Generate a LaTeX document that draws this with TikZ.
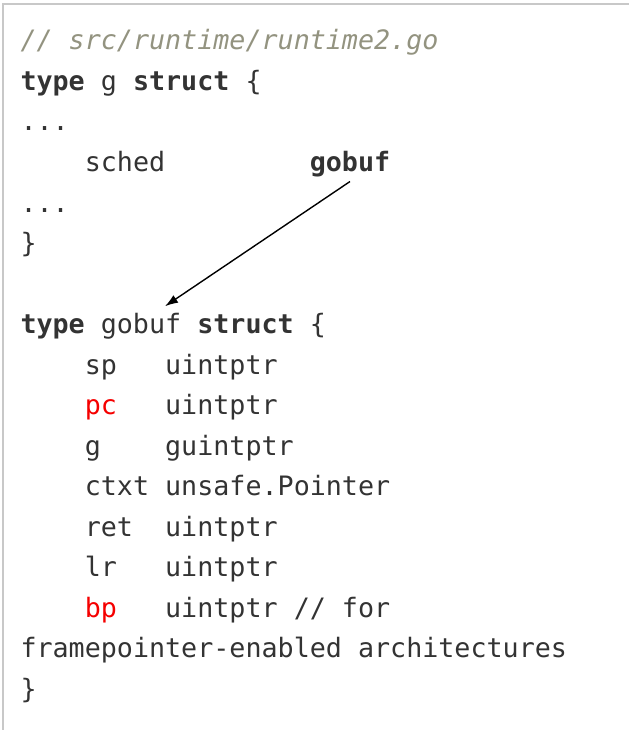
\documentclass[tikz,border=0pt]{standalone}
\usepackage{fontspec}
\usetikzlibrary{arrows.meta}
\newfontfamily\codefont{DejaVu Sans Mono}
\definecolor{codetext}{RGB}{51,51,51}
\definecolor{codecomment}{RGB}{147,147,128}
\definecolor{codered}{RGB}{245,0,0}
\definecolor{frameline}{RGB}{200,200,200}
\tikzset{
  codeline/.style={anchor=base west, inner sep=0pt, outer sep=0pt,
    text=codetext, font=\codefont\fontsize{26.7bp}{40.5bp}\selectfont},
  pointer/.style={draw=black, line width=1.4bp, -{Latex[length=13bp,width=9bp]}}
}
\begin{document}
\begin{tikzpicture}[x=1bp, y=-1bp]
  \useasboundingbox (0,0) rectangle (629,730);
  % frame of the code box
  \draw[frameline, line width=2bp] (3,730) -- (3,4) -- (629,4);

  % struct g
  \node[codeline] (l0) at (20.5,{50+40.5*0}) {\textcolor{codecomment}{\itshape // src/runtime/runtime2.go}};
  \node[codeline] (l1) at (20.5,{50+40.5*1}) {\textbf{type} g \textbf{struct} \{};
  \node[codeline] (l2) at (20.5,{50+40.5*2}) {...};
  \node[codeline] (l3) at (20.5,{50+40.5*3}) {~~~~sched};
  \node[codeline] (lbl) at (309.8,{50+40.5*3}) {\textbf{gobuf}};
  \node[codeline] (l4) at (20.5,{50+40.5*4}) {...};
  \node[codeline] (l5) at (20.5,{50+40.5*5}) {\}};

  % struct gobuf
  \node[codeline] (l7) at (20.5,{50+40.5*7}) {\textbf{type}};
  \node[codeline] (tgobuf) at (100.85,{50+40.5*7}) {gobuf};
  \node[codeline] (l7b) at (197.3,{50+40.5*7}) {\textbf{struct} \{};
  \node[codeline] (l8) at (20.5,{50+40.5*8}) {~~~~sp~~~uintptr};
  \node[codeline] (l9) at (20.5,{50+40.5*9}) {~~~~\textcolor{codered}{pc}~~~uintptr};
  \node[codeline] (l10) at (20.5,{50+40.5*10}) {~~~~g~~~~guintptr};
  \node[codeline] (l11) at (20.5,{50+40.5*11}) {~~~~ctxt~unsafe.Pointer};
  \node[codeline] (l12) at (20.5,{50+40.5*12}) {~~~~ret~~uintptr};
  \node[codeline] (l13) at (20.5,{50+40.5*13}) {~~~~lr~~~uintptr};
  \node[codeline] (l14) at (20.5,{50+40.5*14}) {~~~~\textcolor{codered}{bp}~~~uintptr~//~for};
  \node[codeline] (l15) at (20.5,{50+40.5*15}) {framepointer-enabled~architectures};
  \node[codeline] (l16) at (20.5,{50+40.5*16}) {\}};

  % arrow from the field type to the gobuf definition
  \coordinate (from) at ([yshift=-4.5bp]lbl.south);
  \coordinate (tip) at ([xshift=24bp, yshift=7bp]tgobuf.north);
  \draw[pointer] (from) -- (tip);
\end{tikzpicture}
\end{document}
